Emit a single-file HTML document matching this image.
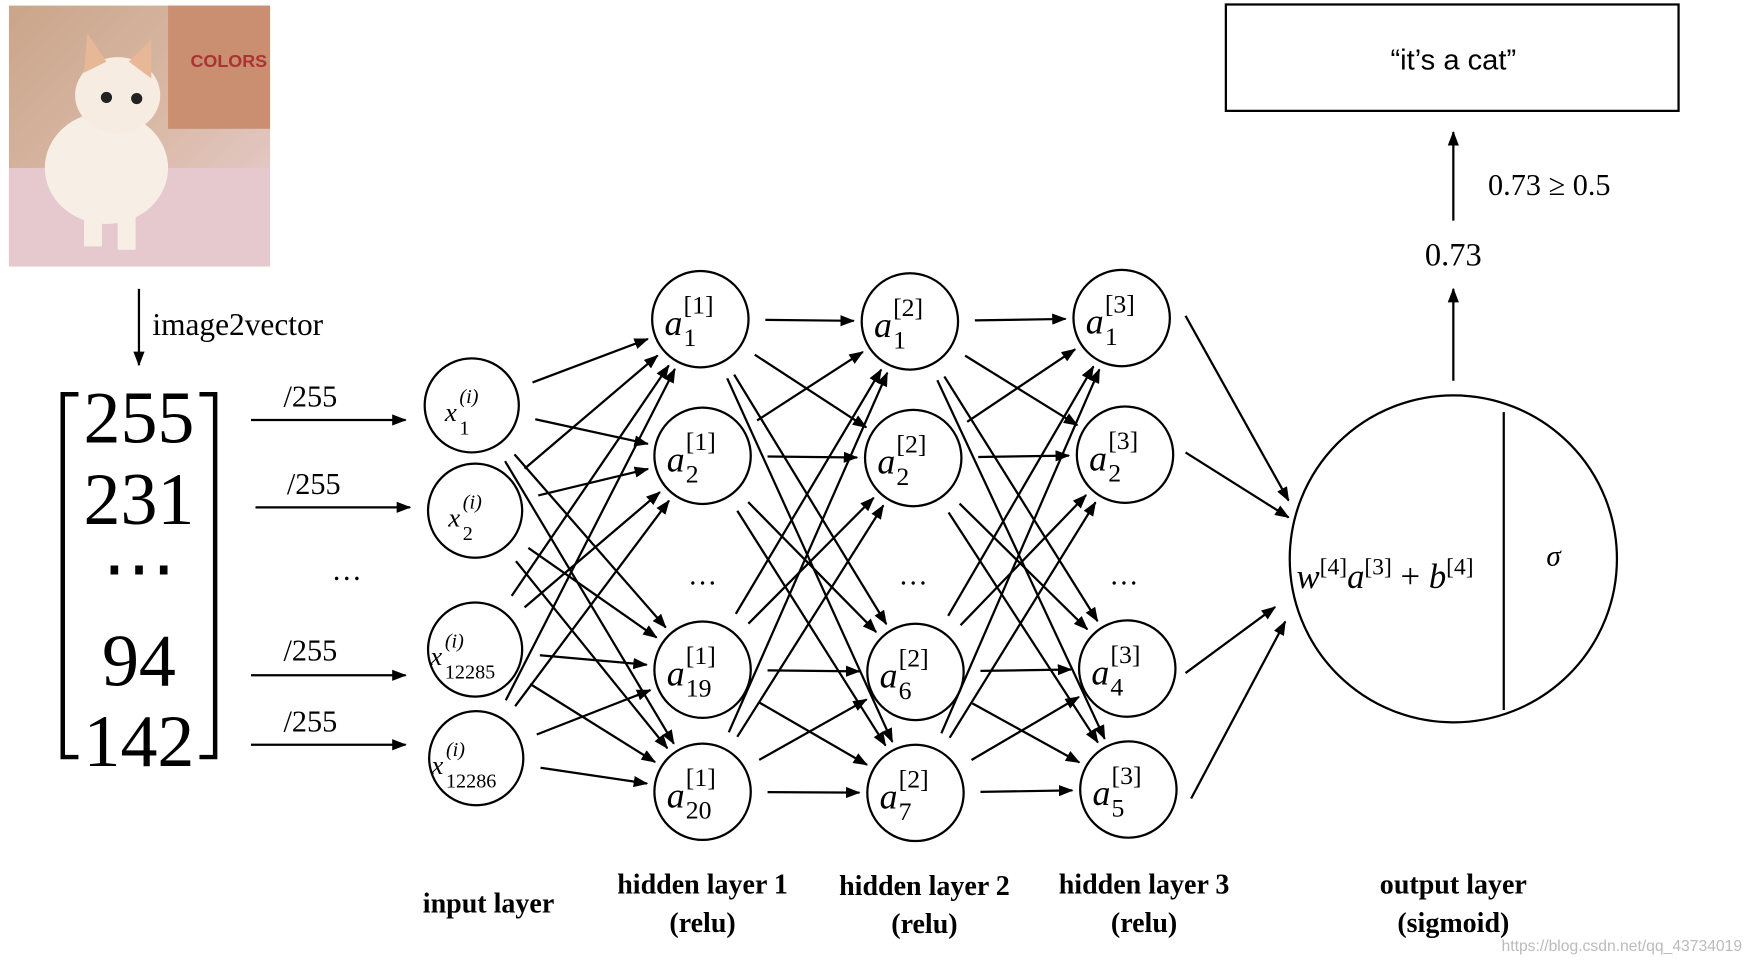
<!DOCTYPE html>
<html><head><meta charset="utf-8"><style>
html,body{margin:0;padding:0;background:#fff;width:1757px;height:962px;overflow:hidden}
svg{display:block}
.s{font-family:"Liberation Serif",serif}
</style></head><body>
<svg id="sv" width="1757" height="962" viewBox="0 0 1568 859" preserveAspectRatio="none" xmlns="http://www.w3.org/2000/svg">
<defs>
<marker id="ar" markerWidth="13" markerHeight="10" refX="12" refY="5" orient="auto" markerUnits="userSpaceOnUse"><path d="M0,0 L13,5 L0,10 z" fill="#000"/></marker>
<linearGradient id="bg" x1="0" y1="0" x2="1" y2="1"><stop offset="0" stop-color="#c9a58a"/><stop offset="0.5" stop-color="#d9b9a6"/><stop offset="1" stop-color="#e8cfd2"/></linearGradient>
</defs>
<rect width="1568" height="859" fill="#fff"/>
<rect x="8" y="5" width="233" height="233" fill="url(#bg)"/>
<rect x="150" y="5" width="91" height="110" fill="#c98f70"/>
<rect x="8" y="150" width="233" height="88" fill="#e6c9cf"/>
<ellipse cx="95" cy="150" rx="55" ry="50" fill="#f7efe6"/>
<ellipse cx="105" cy="85" rx="38" ry="34" fill="#f6ece2"/>
<path d="M75,65 L78,30 L95,55 z M115,55 L135,35 L135,70 z" fill="#e8b896"/>
<circle cx="95" cy="87" r="5" fill="#222"/><circle cx="122" cy="88" r="5" fill="#222"/>
<rect x="75" y="175" width="16" height="45" fill="#f7efe6"/><rect x="105" y="178" width="16" height="45" fill="#f7efe6"/>
<text x="170" y="60" font-family="Liberation Sans" font-size="16" fill="#a33" font-weight="bold">COLORS</text>
<line x1="124" y1="258" x2="124" y2="326" stroke="#000" stroke-width="2" marker-end="url(#ar)"/>
<text x="136" y="299" class="s" font-size="28">image2vector</text>
<path d="M70,352 H56 V676 H70 M178,352 H192 V676 H178" fill="none" stroke="#000" stroke-width="4"/>
<g class="s" font-size="66" text-anchor="middle">
<text x="124" y="395">255</text><text x="124" y="468">231</text><text x="124" y="530">⋯</text><text x="124" y="612">94</text><text x="124" y="684">142</text>
</g>
<g stroke="#000" stroke-width="2">
<line x1="224" y1="375" x2="362" y2="375" marker-end="url(#ar)"/>
<line x1="228" y1="453" x2="366" y2="453" marker-end="url(#ar)"/>
<line x1="224" y1="603" x2="362" y2="603" marker-end="url(#ar)"/>
<line x1="224" y1="665" x2="362" y2="665" marker-end="url(#ar)"/>
</g>
<g class="s" font-size="27">
<text x="253" y="363">/255</text><text x="256" y="441">/255</text><text x="296" y="518">…</text><text x="253" y="590">/255</text><text x="253" y="653">/255</text>
</g>
<g id="nodes" class="s" fill="none" stroke="#000" stroke-width="2"></g>
<g id="edges" stroke="#000" stroke-width="2"></g>
<g id="labels" class="s"></g>
<circle cx="1297" cy="499" r="146" fill="none" stroke="#000" stroke-width="2"/>
<line x1="1342" y1="368" x2="1342" y2="634" stroke="#000" stroke-width="2"/>
<text x="1157" y="525" class="s" font-size="31" font-style="italic">w<tspan font-size="21" dy="-12" font-style="normal">[4]</tspan><tspan dy="12">a</tspan><tspan font-size="21" dy="-12" font-style="normal">[3]</tspan><tspan dy="12" font-style="normal"> + </tspan>b<tspan font-size="21" dy="-12" font-style="normal">[4]</tspan></text>
<text x="1380" y="505" class="s" font-size="26" font-style="italic">σ</text>
<g stroke="#000" stroke-width="2">
<line x1="1058" y1="282" x2="1150" y2="447" marker-end="url(#ar)"/>
<line x1="1058" y1="404" x2="1150" y2="462" marker-end="url(#ar)"/>
<line x1="1058" y1="601" x2="1138" y2="542" marker-end="url(#ar)"/>
<line x1="1063" y1="713" x2="1147" y2="555" marker-end="url(#ar)"/>
<line x1="1297" y1="340" x2="1297" y2="258" marker-end="url(#ar)"/>
<line x1="1297" y1="197" x2="1297" y2="118" marker-end="url(#ar)"/>
</g>
<text x="1297" y="237" class="s" font-size="29" text-anchor="middle">0.73</text>
<text x="1328" y="174" class="s" font-size="27">0.73 ≥ 0.5</text>
<rect x="1094" y="4" width="404" height="95" fill="none" stroke="#000" stroke-width="2"/>
<text x="1297" y="62" font-family="Liberation Sans" font-size="26" text-anchor="middle">“it’s a cat”</text>
<g class="s" font-size="25" font-weight="bold" text-anchor="middle">
<text x="436" y="815">input layer</text>
<text x="627" y="798">hidden layer 1</text><text x="627" y="832">(relu)</text>
<text x="825" y="799">hidden layer 2</text><text x="825" y="833">(relu)</text>
<text x="1021" y="798">hidden layer 3</text><text x="1021" y="832">(relu)</text>
<text x="1297" y="798">output layer</text><text x="1297" y="832">(sigmoid)</text>
</g>
<g class="s" font-size="26" text-anchor="middle"><text x="627" y="522">…</text><text x="815" y="522">…</text><text x="1003" y="522">…</text></g>
<text x="1340" y="849" font-family="Liberation Sans" font-size="14" fill="#bbb">https://blog.csdn.net/qq_43734019</text>
</svg>
<script>
var NS="http://www.w3.org/2000/svg";
var L=[
 [[421,362,"x","(i)","1"],[424,456,"x","(i)","2"],[424,580,"x","(i)","12285"],[425,677,"x","(i)","12286"]],
 [[625,285,"a","[1]","1"],[627,407,"a","[1]","2"],[627,598,"a","[1]","19"],[627,707,"a","[1]","20"]],
 [[812,287,"a","[2]","1"],[815,409,"a","[2]","2"],[817,600,"a","[2]","6"],[817,708,"a","[2]","7"]],
 [[1001,284,"a","[3]","1"],[1004,406,"a","[3]","2"],[1006,597,"a","[3]","4"],[1007,705,"a","[3]","5"]]
];
var nodes=document.getElementById("nodes"),edges=document.getElementById("edges"),labels=document.getElementById("labels");
function el(t,a,p){var e=document.createElementNS(NS,t);for(var k in a)e.setAttribute(k,a[k]);p.appendChild(e);return e;}
L.forEach(function(layer,li){layer.forEach(function(n){
 el("circle",{cx:n[0],cy:n[1],r:li==0?42:43},nodes);
 var big=li==0?24:32, sm=li==0?18:23;
 var x0=n[0]-(li==0?(n[4].length>2?40:24):32);
 var t=el("text",{x:x0,y:n[1]+(li==0?14:14),"font-size":big,"font-style":"italic"},labels);
 t.textContent=n[2];
 var w=li==0?13:17;
 var s1=el("tspan",{x:x0+w,dy:-(li==0?16:19),"font-size":sm,"font-style":li==0?"italic":"normal"},t);s1.textContent=n[3];
 var s2=el("tspan",{x:x0+w,dy:(li==0?28:29),"font-size":sm,"font-style":"normal"},t);s2.textContent=n[4];
});});
for(var li=0;li<3;li++){L[li].forEach(function(a){L[li+1].forEach(function(b){
 var dx=b[0]-a[0],dy=b[1]-a[1],d=Math.sqrt(dx*dx+dy*dy),ux=dx/d,uy=dy/d;
 el("line",{x1:a[0]+ux*58,y1:a[1]+uy*58,x2:b[0]-ux*50,y2:b[1]-uy*50,"marker-end":"url(#ar)"},edges);
});});}
</script>
</body></html>
